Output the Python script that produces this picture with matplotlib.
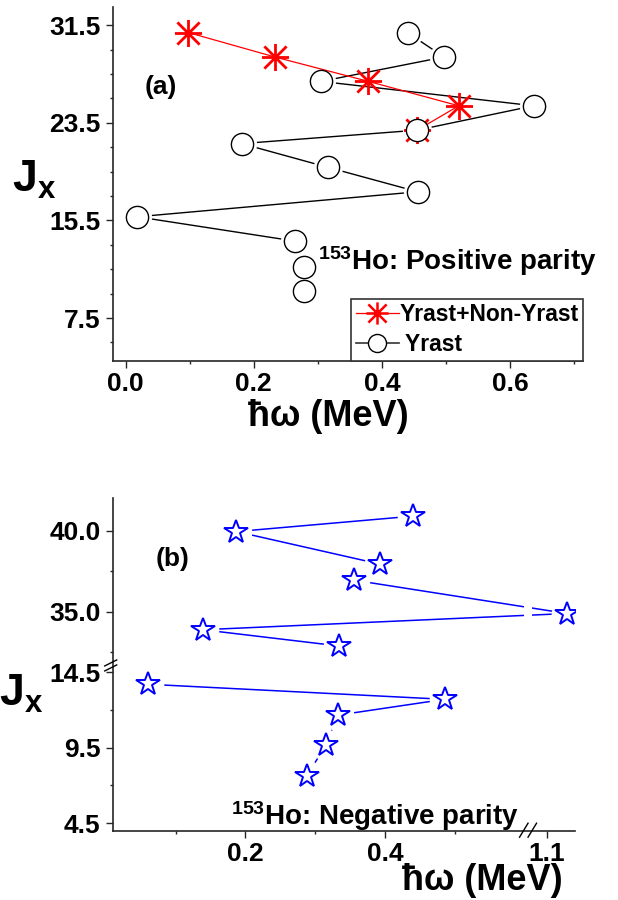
import numpy as np
import matplotlib
matplotlib.use('Agg')
import matplotlib.pyplot as plt
from matplotlib.path import Path
from matplotlib.lines import Line2D
from matplotlib.ticker import FixedLocator, FixedFormatter

plt.rcParams['font.family'] = ['Liberation Sans', 'DejaVu Sans']
plt.rcParams['font.weight'] = 'bold'
plt.rcParams['mathtext.fontset'] = 'custom'
plt.rcParams['mathtext.rm'] = 'Liberation Sans:bold'
plt.rcParams['mathtext.it'] = 'Liberation Sans:bold'
plt.rcParams['mathtext.bf'] = 'Liberation Sans:bold'

# ---------------- data: panel (a) positive parity ----------------
a_mixed_hw = [0.098, 0.233, 0.379, 0.520, 0.455]
a_mixed_jx = [30.9, 28.9, 26.9, 24.9, 22.9]
a_yrast_hw = [0.440, 0.497, 0.305, 0.637, 0.455, 0.181, 0.316, 0.456, 0.018, 0.265, 0.279, 0.278]
a_yrast_jx = [30.9, 28.9, 26.9, 24.9, 22.9, 21.8, 19.85, 17.85, 15.8, 13.8, 11.7, 9.7]
a_labels = ['Yrast+Non-Yrast', ' Yrast']

# ---------------- data: panel (b) negative parity ----------------
b_upper_hw = [0.440, 0.187, 0.392, 0.356, 1.129, 0.139, 0.334]
b_upper_jx = [40.9, 39.95, 37.95, 36.95, 34.9, 33.9, 32.9]
b_lower_hw = [0.060, 0.485, 0.332, 0.315, 0.288]
b_lower_jx = [13.7, 12.7, 11.65, 9.65, 7.65]

# ---------------- ticks ----------------
a_xticks = [0.0, 0.2, 0.4, 0.6]
a_xticklabels = ['0.0', '0.2', '0.4', '0.6']
a_xminor = [0.1, 0.3, 0.5, 0.7]
a_yticks = [7.5, 15.5, 23.5, 31.5]
a_yticklabels = ['7.5', '15.5', '23.5', '31.5']
a_yminor = [5.5, 9.5, 11.5, 13.5, 17.5, 19.5, 21.5, 25.5, 27.5, 29.5]

b_xticks = [0.2, 0.4, 1.1]
b_xticklabels = ['0.2', '0.4', '1.1']
b_xminor = [0.1, 0.3, 0.5]
b_yticks = [4.5, 9.5, 14.5, 35.0, 40.0]
b_yticklabels = ['4.5', '9.5', '14.5', '35.0', '40.0']
b_yminor = [7.0, 12.0, 32.5, 37.5]

# broken-axis scale definitions (panel b)
b_x_breaks = [0.0, 0.5988, 1.079, 1.2]
b_x_mapped = [0.0, 0.5988, 0.61025, 0.61025 + 0.121]
b_y_breaks = [4.0, 15.0, 31.77, 42.0]
b_y_mapped = [0.0, 166.1, 166.4, 332.4]


def piecewise(xs, us):
    xs = np.asarray(xs, float)
    us = np.asarray(us, float)

    def make(a, b):
        def f(v):
            v = np.asarray(v, float)
            out = np.interp(v, a, b)
            lo_s = (b[1] - b[0]) / (a[1] - a[0])
            hi_s = (b[-1] - b[-2]) / (a[-1] - a[-2])
            out = np.where(v < a[0], b[0] + (v - a[0]) * lo_s, out)
            out = np.where(v > a[-1], b[-1] + (v - a[-1]) * hi_s, out)
            return out
        return f
    return make(xs, us), make(us, xs)


W, H = 618, 900
fig = plt.figure(figsize=(W / 100, H / 100), dpi=100)


def box(l, t, r, b):
    return [l / W, 1 - b / H, (r - l) / W, (b - t) / H]


axA = fig.add_axes(box(112.7, 7, 583, 360.7))
axB = fig.add_axes(box(112.7, 498.3, 575, 830.7))

spine_c = '#262626'
for ax in (axA, axB):
    ax.spines['top'].set_visible(False)
    ax.spines['right'].set_visible(False)
    for s in ('left', 'bottom'):
        ax.spines[s].set_linewidth(1.2)
        ax.spines[s].set_color(spine_c)
    ax.tick_params(which='both', direction='out', width=1.0, color=spine_c,
                   labelsize=19, top=False, right=False)
    ax.tick_params(which='major', length=5.3)
    ax.tick_params(which='minor', length=2.5)
    ax.tick_params(axis='y', pad=3.5)
    ax.tick_params(axis='x', pad=3.0)

# asterisk marker (Origin style)
d = 0.82
ast = Path([(-1, 0), (1, 0), (0, -1), (0, 1), (-d, -d), (d, d), (-d, d), (d, -d)],
           [Path.MOVETO, Path.LINETO] * 4)

# ---------------- panel (a) ----------------
axA.plot(a_yrast_hw, a_yrast_jx, color='black', lw=1.0, zorder=2)
axA.plot(a_yrast_hw, a_yrast_jx, ls='none', marker='o', ms=21, mfc='white',
         mec='none', zorder=2.1)
axA.plot(a_mixed_hw, a_mixed_jx, color='red', lw=0.9, marker=ast, ms=19.5,
         mfc='none', mec='red', mew=2.0, zorder=2.2)
axA.plot(a_yrast_hw, a_yrast_jx, ls='none', marker='o', ms=16, mfc='white',
         mec='black', mew=1.0, zorder=2.4)

axA.set_xlim(-0.0203, 0.714)
axA.set_ylim(4.0, 33.0)
axA.xaxis.set_major_locator(FixedLocator(a_xticks))
axA.xaxis.set_major_formatter(FixedFormatter(a_xticklabels))
axA.xaxis.set_minor_locator(FixedLocator(a_xminor))
axA.yaxis.set_major_locator(FixedLocator(a_yticks))
axA.yaxis.set_major_formatter(FixedFormatter(a_yticklabels))
axA.yaxis.set_minor_locator(FixedLocator(a_yminor))

h1 = Line2D([], [], color='red', lw=0.9, marker=ast, ms=16, mec='red', mew=1.8, mfc='none')
h2 = Line2D([], [], color='#333333', lw=1.2, marker='o', ms=13, mfc='white', mec='black', mew=1.0)
leg = axA.legend([h1, h2], a_labels, loc='lower right', borderaxespad=0,
                 frameon=True, fancybox=False, edgecolor='#333333', fontsize=16.5,
                 handlelength=1.9, handletextpad=0.0, borderpad=0.2,
                 labelspacing=0.3, framealpha=1)
leg.get_frame().set_linewidth(1.2)

axA.text(0.1027, 0.774, '(a)', transform=axA.transAxes, ha='center', va='center',
         fontsize=19, fontweight='bold')
axA.text(0.4365, 0.2564, r'$^{153}$Ho: Positive parity', transform=axA.transAxes,
         ha='left', va='baseline', fontsize=20, fontweight='bold')

# ---------------- panel (b) ----------------
fx, ix = piecewise(b_x_breaks, b_x_mapped)
fy, iy = piecewise(b_y_breaks, b_y_mapped)
axB.set_xscale('function', functions=(fx, ix))
axB.set_yscale('function', functions=(fy, iy))
axB.set_xlim(0.01, 1.1405)
axB.set_ylim(4.0, 42.0)

for hw, jx in ((b_upper_hw, b_upper_jx), (b_lower_hw, b_lower_jx)):
    axB.plot(hw, jx, color='blue', lw=1.1, zorder=2)
    axB.plot(hw, jx, ls='none', marker='o', ms=22.8, mfc='white', mec='none', zorder=2.1)
axB.axvspan(b_x_breaks[1], b_x_breaks[2], color='white', lw=0, zorder=2.15)
for hw, jx in ((b_upper_hw, b_upper_jx), (b_lower_hw, b_lower_jx)):
    axB.plot(hw, jx, ls='none', marker='*', ms=17.5, mfc='white', mec='blue',
             mew=1.4, zorder=2.4)

axB.xaxis.set_major_locator(FixedLocator(b_xticks))
axB.xaxis.set_major_formatter(FixedFormatter(b_xticklabels))
axB.xaxis.set_minor_locator(FixedLocator(b_xminor))
axB.yaxis.set_major_locator(FixedLocator(b_yticks))
axB.yaxis.set_major_formatter(FixedFormatter(b_yticklabels))
axB.yaxis.set_minor_locator(FixedLocator(b_yminor))

axB.text(0.1304, 0.8174, '(b)', transform=axB.transAxes, ha='center', va='center',
         fontsize=19, fontweight='bold')
axB.text(0.255, 0.017, r'$^{153}$Ho: Negative parity', transform=axB.transAxes,
         ha='left', va='baseline', fontsize=20, fontweight='bold')

# break marks
fig.canvas.draw()
xb0 = axB.transData.transform((b_x_breaks[1], 20.0))[0]
xb1 = axB.transData.transform((b_x_breaks[2], 20.0))[0]
cx = 0.5 * (xb0 + xb1)
ys = axB.transAxes.transform((0, 0))[1]
for k in (0, 1):
    xs_ = [cx - 8.5 + 8.5 * k, cx + 8.5 * k]
    ys_ = [ys - 6.5, ys + 7.5]
    fig.add_artist(Line2D(np.array(xs_) / W, np.array(ys_) / H, transform=fig.transFigure,
                          color='black', lw=1.0))
xl = axB.transAxes.transform((0, 0))[0]
yb0 = axB.transData.transform((0.2, b_y_breaks[1]))[1]
yb1 = axB.transData.transform((0.2, b_y_breaks[2]))[1]
cy = 0.5 * (yb0 + yb1)
for off in (0.0, -5.0):
    xs_ = [xl - 8, xl + 4]
    ys_ = [cy - 1.5 + off, cy + 4.5 + off]
    fig.add_artist(Line2D(np.array(xs_) / W, np.array(ys_) / H, transform=fig.transFigure,
                          color='black', lw=1.0))

# axis labels
for (px, py) in ((328.5, 416), (482.5, 881)):
    fig.text(px / W, 1 - py / H, 'ħω (MeV)', ha='center', va='center',
             fontsize=26, fontweight='bold')
fig.text(12 / W, 1 - 192 / H, r'J$_{x}$', ha='left', va='baseline', fontsize=32,
         fontweight='bold')
fig.text(-1 / W, 1 - 706 / H, r'J$_{x}$', ha='left', va='baseline', fontsize=32,
         fontweight='bold')

fig.savefig('out.png', dpi=100)
